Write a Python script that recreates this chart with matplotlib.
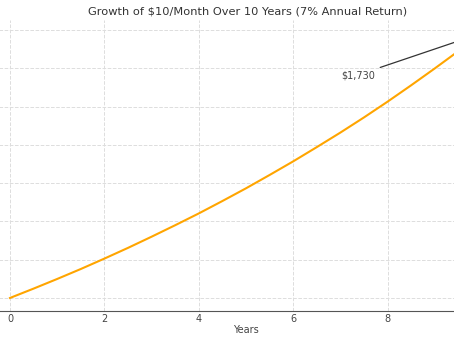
import matplotlib.pyplot as plt

# Values (balance at each half year)
years = [0, 0.5, 1, 1.5, 2, 2.5, 3, 3.5, 4, 4.5, 5, 5.5, 6, 6.5, 7, 7.5, 8, 8.5, 9, 9.5, 10]
balance = [0, 61, 124, 189, 257, 327, 400, 475, 552, 633, 716, 803, 892, 985,
           1080, 1179, 1282, 1389, 1499, 1612, 1730]
final_label = "$1,730"
x_ticks = [0, 2, 4, 6, 8]

fig = plt.figure(figsize=(4.54, 3.41), dpi=100)
# the original view is cropped, so the axes run past the figure edges
ax = fig.add_axes([-0.030, 0.0874, 1.1436, 0.8545])
ax.set_xlim(-0.5, 10.5)
ax.set_ylim(-86.5, 1816.5)

ax.plot(years, balance, color="orange", linewidth=1.5)

ax.annotate(final_label, xy=(years[-1], balance[-1]), xytext=(7.37, 1456),
            textcoords="data", ha="center", va="center", fontsize=7, color="#444444",
            arrowprops=dict(arrowstyle="->", color="#333333", lw=0.9))

ax.set_xticks(x_ticks)
ax.set_yticks(range(0, 2000, 250))
ax.set_yticklabels([])
ax.tick_params(length=0, labelsize=7, colors="#444444", pad=2)
ax.grid(True, linestyle="--", color="#dddddd", linewidth=0.7)
for s in ["top", "right", "left"]:
    ax.spines[s].set_visible(False)
ax.spines["bottom"].set_color("#555555")

ax.set_xlabel("Years", fontsize=7, color="#444444", labelpad=1)
fig.text(0.545, 0.967, "Growth of $10/Month Over 10 Years (7% Annual Return)",
         ha="center", va="center", fontsize=8.2, color="#333333")

plt.savefig("out.png", dpi=100)
